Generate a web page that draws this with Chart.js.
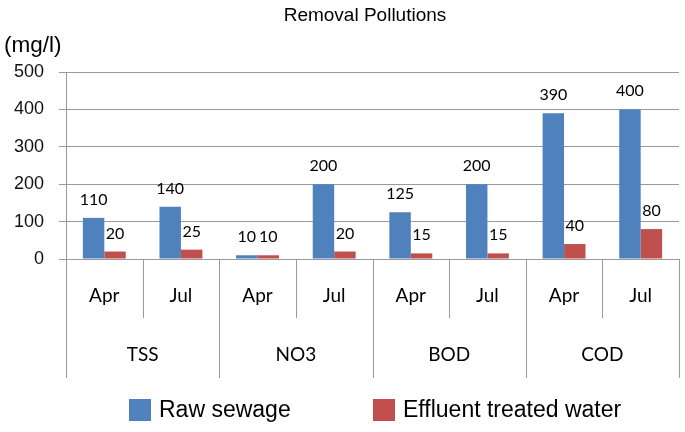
<!DOCTYPE html>
<html>
<head>
<meta charset="utf-8">
<script src="https://cdn.jsdelivr.net/npm/chart.js@4"></script>
<style>
  html, body { margin: 0; padding: 0; background: #fff; }
  #wrap { width: 685px; height: 432px; position: relative; }
</style>
</head>
<body>
<div id="wrap"><canvas id="chart"></canvas></div>
<script>
  const months = ["Apr", "Jul", "Apr", "Jul", "Apr", "Jul", "Apr", "Jul"];
  const groups = ["TSS", "NO3", "BOD", "COD"];
  const rawSewage = [110, 140, 10, 200, 125, 200, 390, 400];
  const effluent = [20, 25, 10, 20, 15, 15, 40, 80];
  const yTicks = [0, 100, 200, 300, 400, 500];

  const BLUE = "#4f81bd";
  const RED = "#c0504d";
  const LINE = "#9a9a9a";
  const LABEL_FONT = "Lato, 'Open Sans', sans-serif";
  const ARIAL = "'Liberation Sans', Arial, sans-serif";

  /* value labels, two-level category axis, titles and legend */
  const extras = {
    id: "extras",
    afterDatasetsDraw(chart) {
      const ctx = chart.ctx;
      ctx.save();
      ctx.fillStyle = "#000";
      ctx.font = "16px " + LABEL_FONT;
      ctx.textAlign = "center";
      ctx.textBaseline = "alphabetic";
      chart.data.datasets.forEach(function (ds, di) {
        chart.getDatasetMeta(di).data.forEach(function (bar, i) {
          ctx.fillText(String(ds.data[i]), bar.x, bar.y - 13);
        });
      });
      ctx.restore();
    },
    afterDraw(chart) {
      const ctx = chart.ctx;
      const x = chart.scales.x;
      const area = chart.chartArea;
      const n = months.length;
      const edge = function (i) {
        if (i <= 0) return area.left;
        if (i >= n) return area.right;
        return (x.getPixelForValue(i - 1) + x.getPixelForValue(i)) / 2;
      };
      ctx.save();
      ctx.strokeStyle = LINE;
      ctx.lineWidth = 1;
      for (let i = 0; i <= n; i++) {
        const px = Math.round(edge(i)) + 0.5;
        const bottom = i % 2 === 0 ? area.bottom + 119 : area.bottom + 59;
        ctx.beginPath();
        ctx.moveTo(px, area.bottom);
        ctx.lineTo(px, bottom);
        ctx.stroke();
      }
      ctx.fillStyle = "#000";
      ctx.textAlign = "center";
      ctx.textBaseline = "middle";
      ctx.font = "19px " + LABEL_FONT;
      months.forEach(function (m, i) {
        ctx.fillText(m, x.getPixelForValue(i), area.bottom + 37);
      });
      groups.forEach(function (g, i) {
        ctx.fillText(g, (edge(i * 2) + edge(i * 2 + 2)) / 2, area.bottom + 96);
      });

      /* title and unit */
      ctx.font = "19px " + ARIAL;
      ctx.fillText("Removal Pollutions", 365, 16);
      ctx.textAlign = "left";
      ctx.font = "22.5px " + ARIAL;
      ctx.fillText("(mg/l)", 4, 46);

      /* legend */
      const items = [
        { text: chart.data.datasets[0].label, color: BLUE, x: 129 },
        { text: chart.data.datasets[1].label, color: RED, x: 373 }
      ];
      ctx.font = "23px " + ARIAL;
      items.forEach(function (it) {
        ctx.fillStyle = it.color;
        ctx.fillRect(it.x, 399, 22, 22);
        ctx.fillStyle = "#000";
        ctx.fillText(it.text, it.x + 30, 411);
      });
      ctx.restore();
    }
  };

  new Chart(document.getElementById("chart"), {
    type: "bar",
    data: {
      labels: months,
      datasets: [
        { label: "Raw sewage", data: rawSewage, backgroundColor: BLUE,
          categoryPercentage: 0.56, barPercentage: 1 },
        { label: "Effluent treated water", data: effluent, backgroundColor: RED,
          categoryPercentage: 0.56, barPercentage: 1 }
      ]
    },
    options: {
      responsive: true,
      maintainAspectRatio: false,
      animation: false,
      layout: { padding: { top: 72, left: 0, right: 6, bottom: 173 } },
      plugins: {
        legend: { display: false },
        title: { display: false },
        tooltip: { enabled: false }
      },
      scales: {
        x: { display: false },
        y: {
          min: 0, max: 500,
          afterFit: function (s) { s.width = 66; },
          afterBuildTicks: function (s) { s.ticks = yTicks.map(function (v) { return { value: v }; }); },
          ticks: { color: "#111", padding: 15, font: { family: ARIAL, size: 18 } },
          grid: { color: LINE, tickLength: 7, tickColor: LINE },
          border: { display: true, color: LINE }
        }
      }
    },
    plugins: [extras]
  });
</script>
</body>
</html>
